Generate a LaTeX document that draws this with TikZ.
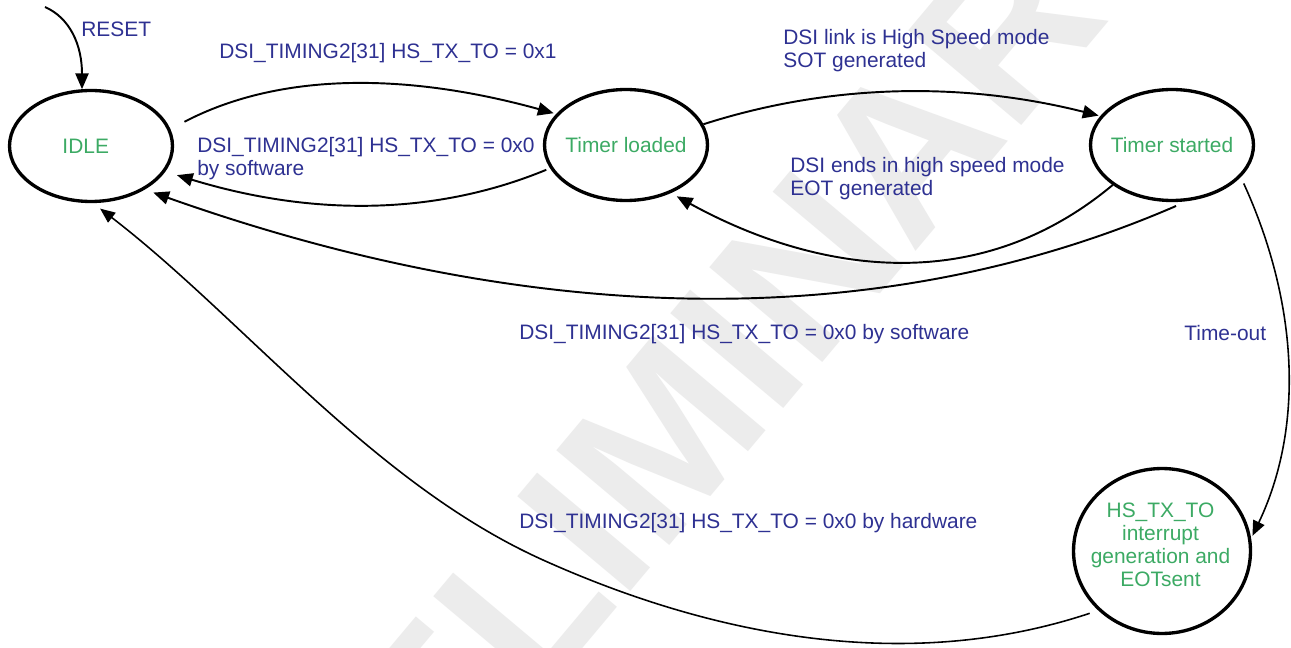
\documentclass[tikz,border=0pt]{standalone}
\usepackage{fontspec}
\setmainfont{Liberation Sans}
\usetikzlibrary{arrows.meta,shapes.geometric}
\definecolor{lblue}{RGB}{46,49,146}
\definecolor{sgreen}{RGB}{60,170,100}
\definecolor{wmgray}{RGB}{236,236,236}
\newcommand\lblfont{\fontsize{11.9pt}{13pt}\selectfont}
\begin{document}
\begin{tikzpicture}[x=0.02cm,y=-0.02cm,
  state/.style={ellipse,draw,line width=1.9pt,inner sep=0pt,minimum width=3.26cm,minimum height=2.22cm,text=sgreen,font=\lblfont},
  lbl/.style={text=lblue,inner sep=0pt,font=\lblfont,align=left},
  edge/.style={line width=1.1pt,-{Triangle[length=9pt,width=7.5pt]}},
  thin edge/.style={line width=0.9pt,-{Triangle[length=8.5pt,width=7pt]}}]
\useasboundingbox (0,0) rectangle (1291,648);
\fill[white] (0,0) rectangle (1291,648);
\clip (0,0) rectangle (1291,648);
% watermark
\node[font=\fontsize{122pt}{122pt}\selectfont\bfseries, text=wmgray, rotate=50, inner sep=0pt] (wm) at (670,430) {PRELIMINARY};
% states
\node[state] (idle) at (91,146) {\makebox[0pt]{IDLE\kern6pt}};
\node[state] (tl) at (626,145) {\makebox[0pt]{Timer loaded}};
\node[state] (ts) at (1172,145) {\makebox[0pt]{Timer started}};
\node[state, minimum width=3.54cm, minimum height=3.3cm] (hs) at (1162,551) {};
\node[text=sgreen, font=\lblfont, align=center, inner sep=0pt] (hstext) at (1160.5,545) {HS\_TX\_TO\\interrupt\\generation and\\EOTsent};
% labels
\node[lbl, anchor=base west] (lreset) at (81,36.5) {RESET};
\node[lbl, anchor=base west] (l1) at (219,59) {DSI\_TIMING2[31] HS\_TX\_TO = 0x1};
\node[lbl, anchor=west] (l2) at (197,159) {DSI\_TIMING2[31] HS\_TX\_TO = 0x0\\by software};
\node[lbl, anchor=west] (l3) at (783,51) {DSI link is High Speed mode\\SOT generated};
\node[lbl, anchor=west] (l4) at (790,179) {DSI ends in high speed mode\\EOT generated};
\node[lbl, anchor=base west] (l5) at (519,339) {DSI\_TIMING2[31] HS\_TX\_TO = 0x0 by software};
\node[lbl, anchor=base west] (l6) at (1184,340) {Time-out};
\node[lbl, anchor=base west] (l7) at (519,528) {DSI\_TIMING2[31] HS\_TX\_TO = 0x0 by hardware};
% connectors
\coordinate (rs) at (45,7);
\draw[edge] (rs) .. controls (70,18) and (82,45) .. (idle.99);
\draw[edge, shorten <=9pt, shorten >=1.5pt] (idle.12) .. controls (274,75) and (397,70) .. (tl.156);
\draw[edge, shorten <=2.3pt, shorten >=6.9pt] (tl.197) .. controls (437,215) and (314,217) .. (idle.-19);
\draw[edge, shorten >=1pt] (tl.15) .. controls (829,84) and (961,81) .. (ts.158);
\draw[edge, shorten >=3.8pt] (ts.214) .. controls (970,304) and (805,267) .. (tl.-47);
\draw[edge, shorten <=6.8pt, shorten >=5.1pt] (ts.-75) .. controls (881,334) and (535,328) .. (idle.-39);
\draw[thin edge, shorten <=4pt, shorten >=1.7pt] (ts.-25) .. controls (1300,307) and (1303,430) .. (hs.8);
\draw[thin edge, shorten <=5.1pt, shorten >=5.1pt] (hs.223) .. controls (907,674) and (713,636.5) .. (543,560) .. controls (373,483.5) and (243,318.5) .. (idle.-88);
\end{tikzpicture}
\end{document}
